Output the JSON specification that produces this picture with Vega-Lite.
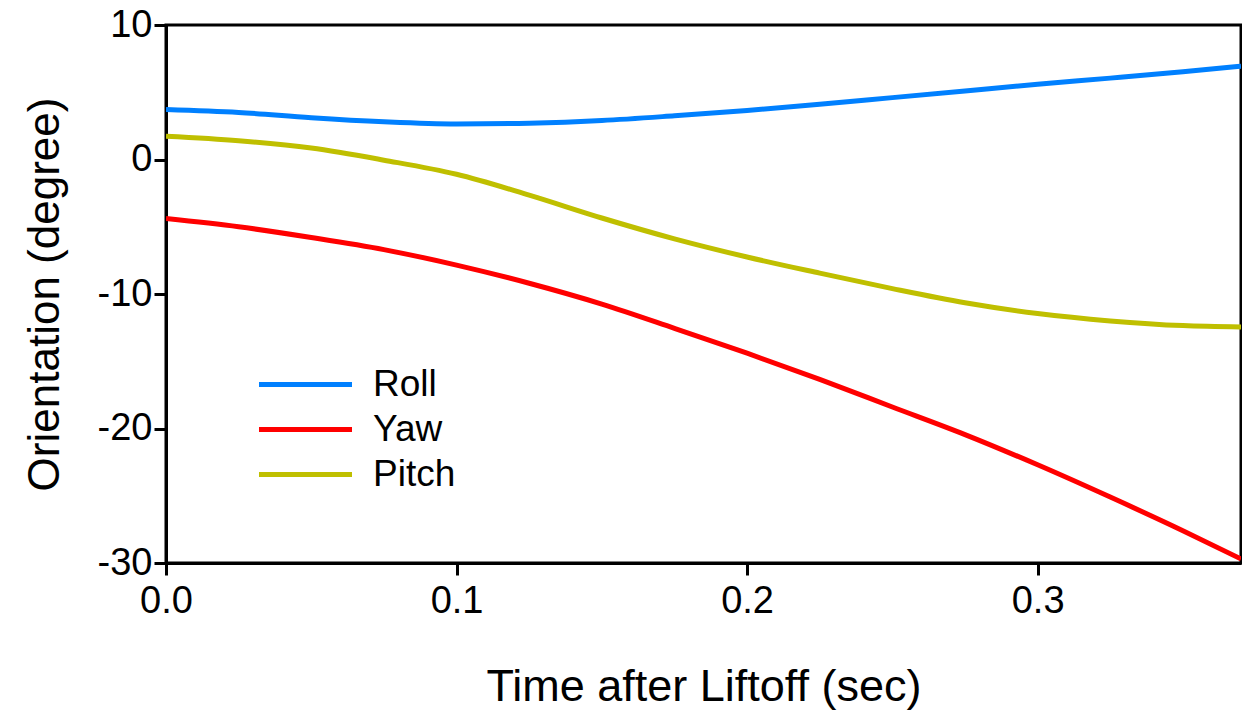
{
  "$schema": "https://vega.github.io/schema/vega-lite/v6.json",
  "width": 1075,
  "height": 538,
  "autosize": {"type": "none"},
  "padding": {"left": 166, "top": 25, "right": 1, "bottom": 148},
  "background": "white",
  "config": {
    "font": "Liberation Sans",
    "view": {"stroke": "black", "strokeWidth": 3},
    "axis": {
      "ticks": true,
      "domain": true,
      "tickColor": "#000000",
      "tickOpacity": 1,
      "tickWidth": 3,
      "tickSize": 12,
      "domainColor": "#000000",
      "domainWidth": 3,
      "grid": false
    }
  },
  "data": {
    "values": [
      {"t": 0, "v": 3.72, "s": "Roll"},
      {"t": 0.025, "v": 3.5, "s": "Roll"},
      {"t": 0.05, "v": 3.1, "s": "Roll"},
      {"t": 0.075, "v": 2.8, "s": "Roll"},
      {"t": 0.1, "v": 2.64, "s": "Roll"},
      {"t": 0.125, "v": 2.7, "s": "Roll"},
      {"t": 0.15, "v": 2.9, "s": "Roll"},
      {"t": 0.175, "v": 3.25, "s": "Roll"},
      {"t": 0.2, "v": 3.65, "s": "Roll"},
      {"t": 0.225, "v": 4.1, "s": "Roll"},
      {"t": 0.25, "v": 4.6, "s": "Roll"},
      {"t": 0.275, "v": 5.1, "s": "Roll"},
      {"t": 0.3, "v": 5.6, "s": "Roll"},
      {"t": 0.325, "v": 6.05, "s": "Roll"},
      {"t": 0.35, "v": 6.52, "s": "Roll"},
      {"t": 0.37, "v": 6.94, "s": "Roll"},
      {"t": 0, "v": -4.39, "s": "Yaw"},
      {"t": 0.025, "v": -5.0, "s": "Yaw"},
      {"t": 0.05, "v": -5.8, "s": "Yaw"},
      {"t": 0.075, "v": -6.7, "s": "Yaw"},
      {"t": 0.1, "v": -7.85, "s": "Yaw"},
      {"t": 0.125, "v": -9.2, "s": "Yaw"},
      {"t": 0.15, "v": -10.75, "s": "Yaw"},
      {"t": 0.175, "v": -12.55, "s": "Yaw"},
      {"t": 0.2, "v": -14.4, "s": "Yaw"},
      {"t": 0.225, "v": -16.35, "s": "Yaw"},
      {"t": 0.25, "v": -18.4, "s": "Yaw"},
      {"t": 0.275, "v": -20.45, "s": "Yaw"},
      {"t": 0.3, "v": -22.7, "s": "Yaw"},
      {"t": 0.325, "v": -25.1, "s": "Yaw"},
      {"t": 0.35, "v": -27.6, "s": "Yaw"},
      {"t": 0.37, "v": -29.7, "s": "Yaw"},
      {"t": 0, "v": 1.73, "s": "Pitch"},
      {"t": 0.025, "v": 1.4, "s": "Pitch"},
      {"t": 0.05, "v": 0.85, "s": "Pitch"},
      {"t": 0.075, "v": -0.05, "s": "Pitch"},
      {"t": 0.1, "v": -1.1, "s": "Pitch"},
      {"t": 0.125, "v": -2.65, "s": "Pitch"},
      {"t": 0.15, "v": -4.35, "s": "Pitch"},
      {"t": 0.175, "v": -5.9, "s": "Pitch"},
      {"t": 0.2, "v": -7.25, "s": "Pitch"},
      {"t": 0.225, "v": -8.45, "s": "Pitch"},
      {"t": 0.25, "v": -9.6, "s": "Pitch"},
      {"t": 0.275, "v": -10.65, "s": "Pitch"},
      {"t": 0.3, "v": -11.45, "s": "Pitch"},
      {"t": 0.325, "v": -12.0, "s": "Pitch"},
      {"t": 0.35, "v": -12.35, "s": "Pitch"},
      {"t": 0.37, "v": -12.45, "s": "Pitch"}
    ]
  },
  "mark": {"type": "line", "strokeWidth": 5, "interpolate": "monotone", "clip": true},
  "encoding": {
    "x": {
      "field": "t",
      "type": "quantitative",
      "scale": {"domain": [0, 0.37], "nice": false, "zero": false},
      "axis": {
        "title": "Time after Liftoff (sec)",
        "values": [0, 0.1, 0.2, 0.3],
        "format": ".1f",
        "labelFlush": false,
        "labelFontSize": 38,
        "labelColor": "black",
        "labelPadding": 7,
        "titleFontSize": 45,
        "titleFontWeight": "normal",
        "titleColor": "black",
        "titlePadding": 44
      }
    },
    "y": {
      "field": "v",
      "type": "quantitative",
      "scale": {"domain": [-30, 10], "nice": false, "zero": false},
      "axis": {
        "title": "Orientation (degree)",
        "values": [-30, -20, -10, 0, 10],
        "labelExpr": "'' + datum.value",
        "labelFlush": false,
        "labelFontSize": 38,
        "labelColor": "black",
        "labelPadding": 2,
        "titleFontSize": 44,
        "titleFontWeight": "normal",
        "titleColor": "black",
        "titlePadding": 30
      }
    },
    "color": {
      "field": "s",
      "type": "nominal",
      "scale": {"domain": ["Roll", "Yaw", "Pitch"], "range": ["#0080FF", "#FF0000", "#BFBF00"]},
      "legend": {
        "title": null,
        "orient": "none",
        "legendX": 121,
        "legendY": 341,
        "symbolType": "M-3,0H3",
        "symbolSize": 961,
        "symbolStrokeWidth": 5,
        "labelFontSize": 37,
        "labelColor": "black",
        "labelOffset": 49,
        "rowPadding": 7
      }
    }
  }
}
